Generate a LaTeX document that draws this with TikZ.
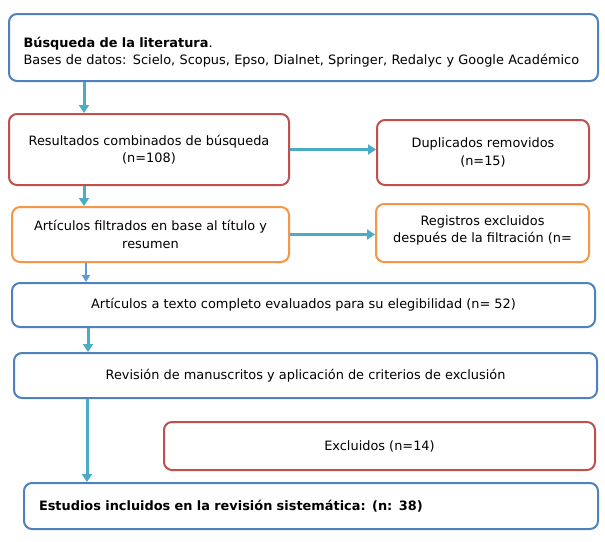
\documentclass[tikz,border=0pt]{standalone}
\usepackage{fontspec}
\setmainfont{DejaVu Sans}
\usetikzlibrary{arrows.meta}
\definecolor{boxblue}{HTML}{4F81BD}
\definecolor{boxred}{HTML}{C0504D}
\definecolor{boxorange}{HTML}{F79646}
\definecolor{flowteal}{HTML}{4BACC6}
\definecolor{flowblue}{HTML}{5B9BD5}

\begin{document}
\begin{tikzpicture}[x=1pt,y=-1pt,font=\fontsize{12.9}{17.5}\selectfont,
  box/.style={line width=2pt,rounded corners=8pt,fill=white,anchor=north west,align=center,inner sep=0pt},
  bluebox/.style={box,draw=boxblue},
  redbox/.style={box,draw=boxred},
  orangebox/.style={box,draw=boxorange},
  flow/.style={-{Triangle[length=8pt,width=10pt]},line width=3pt,flowteal},
  thinflow/.style={-{Triangle[length=7pt,width=8pt]},line width=1.6pt,flowblue}]
\fill[white] (0,0) rectangle (605,541);
\useasboundingbox (0,0) rectangle (605,541);

\node[bluebox,minimum width=589pt,minimum height=67pt,text width=560pt,align=left] (busqueda) at (8,13)
  {\rule{0pt}{20pt}\textbf{Búsqueda de la literatura}.\\Bases de datos: Scielo, Scopus, Epso, Dialnet, Springer, Redalyc y Google Académico};
\node[redbox,minimum width=280pt,minimum height=71pt] (resultados) at (8,113) {Resultados combinados de búsqueda\\(n=108)};
\node[redbox,minimum width=212pt,minimum height=65pt] (duplicados) at (376,119) {Duplicados removidos\\(n=15)};
\node[orangebox,minimum width=277pt,minimum height=55pt] (filtrados) at (11,206) {Artículos filtrados en base al título y\\resumen};
\node[orangebox,minimum width=213pt,minimum height=58pt] (registros) at (375,203) {Registros excluidos\\después de la filtración (n=\rule[-8pt]{0pt}{8pt}};
\node[bluebox,minimum width=583pt,minimum height=44pt] (texto) at (11,282) {Artículos a texto completo evaluados para su elegibilidad (n= 52)};
\node[bluebox,minimum width=583pt,minimum height=45pt] (revision) at (13,352) {Revisión de manuscritos y aplicación de criterios de exclusión};
\node[redbox,minimum width=431pt,minimum height=48pt] (excluidos) at (163,421) {Excluidos (n=14)};
\node[bluebox,minimum width=574pt,minimum height=46pt,text width=544pt,align=left] (estudios) at (23,482)
  {\textbf{Estudios incluidos en la revisión sistemática: (n: 38)}};

% flujo principal
\draw[flow] ([xshift=76pt]busqueda.south west) -- ([xshift=76pt]busqueda.south west |- resultados.north);
\draw[flow] (resultados.east) -- (resultados.east -| duplicados.west);
\draw[flow] ([xshift=76pt]resultados.south west) -- ([xshift=76pt]resultados.south west |- filtrados.north);
\draw[flow] (filtrados.east) -- (filtrados.east -| registros.west);
\draw[thinflow] ([xshift=75pt]filtrados.south west) -- ([xshift=75pt]filtrados.south west |- texto.north);
\draw[flow] ([xshift=77pt]texto.south west) -- ([xshift=77pt]texto.south west |- revision.north);
\draw[flow] ([xshift=74pt]revision.south west) -- ([xshift=74pt]revision.south west |- estudios.north);
\end{tikzpicture}
\end{document}
